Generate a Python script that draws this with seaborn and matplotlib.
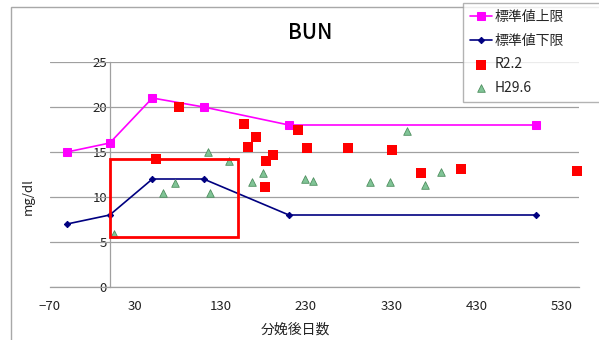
import matplotlib
matplotlib.use("Agg")
import matplotlib.pyplot as plt
import seaborn as sns
import pandas as pd
from matplotlib.patches import Rectangle

sns.set_theme(style="white")
plt.rcParams['font.family'] = ['Noto Sans CJK JP', 'DejaVu Sans']
plt.rcParams['axes.unicode_minus'] = True

# ---- data ----
std_x = [-50, 0, 50, 110, 210, 500]
upper_y = [15, 16, 21, 20, 18, 18]
lower_y = [7, 8, 12, 12, 8, 8]

r22_x = [54, 81, 157, 162, 172, 183, 191, 182, 221, 231, 279, 331, 365, 412, 548]
r22_y = [14.2, 20.0, 18.1, 15.6, 16.7, 14.0, 14.7, 11.1, 17.4, 15.4, 15.4, 15.2, 12.7, 13.1, 12.9]

h296_x = [5, 63, 76, 115, 118, 140, 167, 180, 229, 238, 305, 329, 348, 369, 388]
h296_y = [5.9, 10.5, 11.6, 15.0, 10.5, 14.0, 11.7, 12.7, 12.0, 11.8, 11.7, 11.7, 17.3, 11.3, 12.8]

box_x = [0, 150]
box_y = [5.6, 14.2]

x_ticks = [-70, 30, 130, 230, 330, 430, 530]
y_ticks = [0, 5, 10, 15, 20, 25]

upper_label = "標準値上限"
lower_label = "標準値下限"

std_df = pd.DataFrame({"x": std_x, "upper": upper_y, "lower": lower_y})
r_df = pd.DataFrame({"x": r22_x, "y": r22_y})
h_df = pd.DataFrame({"x": h296_x, "y": h296_y})

fig = plt.figure(figsize=(5.99, 3.40), dpi=100)
ax = fig.add_axes([50/599, 53/340, 529/599, 225/340])

grid_c = "#a0a0a0"
for yv in y_ticks:
    ax.axhline(yv, color=grid_c, lw=0.9, zorder=1)

sns.lineplot(data=std_df, x="x", y="upper", ax=ax, color="#ff00ff", lw=1.2,
             marker="s", markersize=6, markeredgecolor="#ff00ff", label=upper_label,
             zorder=3, clip_on=False)
sns.lineplot(data=std_df, x="x", y="lower", ax=ax, color="#000080", lw=1.2,
             marker="D", markersize=3.2, markeredgecolor="#000080", label=lower_label,
             zorder=3, clip_on=False)
sns.scatterplot(data=r_df, x="x", y="y", ax=ax, marker="s", s=55, color="#ff0000",
                edgecolor="#ff0000", linewidth=0, label="R2.2", zorder=4, clip_on=False)
sns.scatterplot(data=h_df, x="x", y="y", ax=ax, marker="^", s=30, color="#80c496",
                edgecolor="#4f8f60", linewidth=0.6, label="H29.6", zorder=4, clip_on=False)

handles, labels = ax.get_legend_handles_labels()
if ax.get_legend() is not None:
    ax.get_legend().remove()

ax.add_patch(Rectangle((box_x[0], box_y[0]), box_x[1] - box_x[0], box_y[1] - box_y[0],
                       fill=False, edgecolor="#ff0000", lw=2.0, zorder=5))

ax.set_xlim(-70, 550)
ax.set_ylim(0, 25)
ax.set_xticks(x_ticks)
ax.set_yticks(y_ticks)
ax.set_xticklabels([str(v).replace("-", "\u2212") for v in x_ticks])
for s in ["top", "right"]:
    ax.spines[s].set_visible(False)
ax.spines["left"].set_position(("data", 0))
ax.spines["left"].set_color(grid_c)
ax.spines["left"].set_linewidth(0.9)
ax.spines["bottom"].set_color(grid_c)
ax.spines["bottom"].set_linewidth(0.9)
ax.tick_params(axis="x", direction="in", length=3, color=grid_c, pad=9,
               labelsize=9.5, labelcolor="#222222")
ax.tick_params(axis="y", length=0, pad=2, labelsize=9.5, labelcolor="#222222")
ax.set_facecolor("white")

ax.set_xlabel("分娩後日数", fontsize=10, color="#222222")
ax.xaxis.set_label_coords((295 - 50) / 529, -(323 - 287) / 225)
ax.set_ylabel("mg/dl", fontsize=9.5, color="#222222")
ax.yaxis.set_label_coords((35 - 50) / 529, (287 - 197) / 225)

fig.text(310/599, 1 - 33/340, "BUN", ha="center", va="center", fontsize=15,
         color="#000000", fontweight="medium")

# outer chart border
fig.patches.append(Rectangle((10.5/599, -0.1), 1.2, (340 - 7)/340 + 0.1,
                             transform=fig.transFigure, fill=False,
                             edgecolor="#a8a8a8", lw=1.0, zorder=0))

leg = fig.legend(handles, labels, loc="upper left",
                 bbox_to_anchor=(463/599, 1 - 3/340, 160/599, 0.0),
                 mode="expand", frameon=True, fancybox=False, fontsize=10,
                 borderpad=0.5, labelspacing=0.7, handlelength=1.6,
                 handletextpad=0.15, borderaxespad=0)
leg.get_frame().set_edgecolor("#a0a0a0")
leg.get_frame().set_linewidth(1.0)
leg.set_zorder(10)
leg._legend_box.align = "left"
for pk in leg.get_children():
    pass

fig.savefig("out.png", dpi=100, facecolor="white")
